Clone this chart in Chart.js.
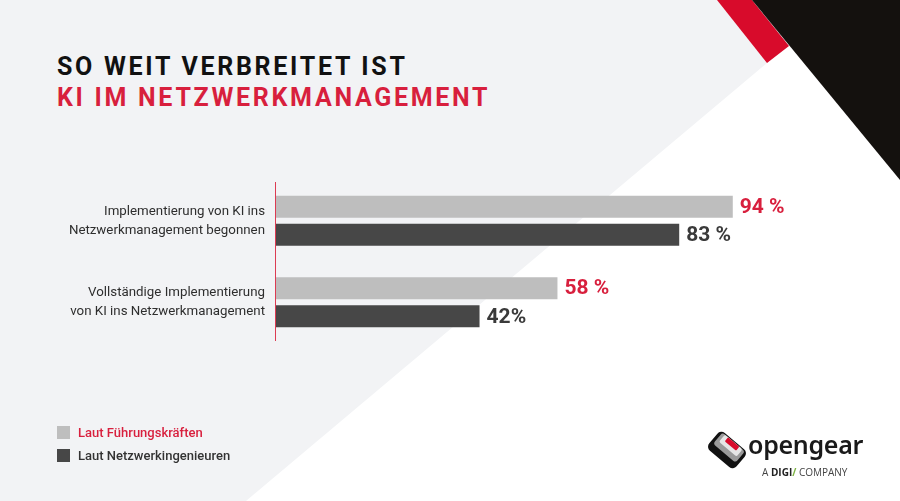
<!DOCTYPE html>
<html>
<head>
<meta charset="utf-8">
<script src="https://cdn.jsdelivr.net/npm/chart.js@4"></script>
<style>
  html, body { margin: 0; padding: 0; }
  body { width: 900px; height: 501px; position: relative; overflow: hidden; background: #f2f3f5; font-family: Roboto, sans-serif; }
  .shape { position: absolute; left: 0; top: 0; width: 900px; height: 501px; }
  #white { background: #fff; clip-path: polygon(246px 501px, 842px 0px, 900px 0px, 900px 501px); }
  #red { background: #d80b2b; clip-path: polygon(717px 0px, 752px 0px, 789px 46px, 767px 63px); }
  #black { background: #14110e; clip-path: polygon(752px 0px, 900px 0px, 900px 180px); }
  #chart { position: absolute; left: 0; top: 0; }
  .title { position: absolute; left: 57px; font-size: 25px; line-height: 25px; font-weight: 700; letter-spacing: 2.7px; white-space: nowrap; }
  .legend { position: absolute; left: 57px; font-size: 13px; font-weight: 500; line-height: 16px; white-space: nowrap; }
  .legend span { display: inline-block; width: 13px; height: 13px; vertical-align: -2px; margin-right: 8px; }
  #logo { position: absolute; left: 706px; top: 430px; }
</style>
</head>
<body>
<div class="shape" id="white"></div>
<div class="shape" id="red"></div>
<div class="shape" id="black"></div>

<div class="title" style="top:54px;color:#111;">SO WEIT VERBREITET IST</div>
<div class="title" style="top:85px;color:#d81f3d;">KI IM NETZWERKMANAGEMENT</div>

<canvas id="chart" width="900" height="501"></canvas>

<div class="legend" style="top:425px;color:#d81f3d;"><span style="background:#bebebe"></span>Laut Führungskräften</div>
<div class="legend" style="top:448px;color:#333;"><span style="background:#474747"></span>Laut Netzwerkingenieuren</div>

<div id="logo">
  <svg width="42" height="42" viewBox="0 0 40 40" style="position:absolute;left:0;top:-1px;">
    <g transform="rotate(40 20 20)">
      <rect x="3" y="9" width="34" height="22" rx="5" fill="#111"/>
      <rect x="6" y="10" width="28" height="14" rx="3" fill="#9a9a9a"/>
      <rect x="9" y="10" width="22" height="9" rx="2" fill="#e6e6e6"/>
      <rect x="13" y="10" width="14" height="5" rx="1" fill="#d80b2b"/>
    </g>
  </svg>
  <div style="position:absolute;left:42px;top:-3px;font-family:'Noto Sans',sans-serif;font-size:25px;font-weight:600;color:#1a1a1a;letter-spacing:-0.3px;white-space:nowrap;">opengear</div>
  <div style="position:absolute;left:56px;top:35px;font-family:'Open Sans',sans-serif;font-size:10px;color:#444;white-space:nowrap;">A <b style="color:#222">DIGI</b><span style="color:#7cb342;font-weight:700;">/</span> COMPANY</div>
</div>

<script>
const categories = [
  ['Implementierung von KI ins', 'Netzwerkmanagement begonnen'],
  ['Vollständige Implementierung', 'von KI ins Netzwerkmanagement']
];
const seriesNames = ['Laut Führungskräften', 'Laut Netzwerkingenieuren'];
const executives = [94, 58];
const engineers = [83, 42];
const executiveLabels = ['94 %', '58 %'];
const engineerLabels = ['83 %', '42%'];

// value text next to each bar + the thin red axis line
const valueLabels = {
  id: 'valueLabels',
  afterDatasetsDraw(chart) {
    const ctx = chart.ctx;
    const area = chart.chartArea;
    ctx.save();
    ctx.strokeStyle = '#dc3b52';
    ctx.lineWidth = 1;
    ctx.beginPath();
    ctx.moveTo(area.left + 0.5, area.top + 2);
    ctx.lineTo(area.left + 0.5, area.bottom - 2);
    ctx.stroke();

    ctx.font = 'bold 21px Roboto';
    ctx.textBaseline = 'middle';
    ctx.textAlign = 'left';
    chart.data.datasets.forEach((ds, i) => {
      const meta = chart.getDatasetMeta(i);
      meta.data.forEach((bar, j) => {
        ctx.fillStyle = ds.labelColor;
        ctx.fillText(ds.valueText[j], bar.x + 7, bar.y + 1);
      });
    });
    ctx.restore();
  }
};

new Chart(document.getElementById('chart'), {
  type: 'bar',
  data: {
    labels: categories,
    datasets: [
      {
        label: seriesNames[0],
        data: executives,
        valueText: executiveLabels,
        labelColor: '#d81f3d',
        backgroundColor: '#bebebe',
        categoryPercentage: 0.69,
        barPercentage: 0.786
      },
      {
        label: seriesNames[1],
        data: engineers,
        valueText: engineerLabels,
        labelColor: '#3a3a3a',
        backgroundColor: '#474747',
        categoryPercentage: 0.69,
        barPercentage: 0.786
      }
    ]
  },
  options: {
    indexAxis: 'y',
    responsive: false,
    animation: false,
    devicePixelRatio: 1,
    layout: { padding: { top: 180, bottom: 158, right: 138, left: 0 } },
    plugins: { legend: { display: false }, tooltip: { enabled: false } },
    scales: {
      x: { min: 0, max: 100, display: false },
      y: {
        afterFit(scale) { scale.width = 275; },
        grid: { display: false, drawTicks: false },
        border: { display: false },
        ticks: {
          color: '#2e2e2e',
          padding: 10,
          font: { family: 'Roboto', size: 13.3, lineHeight: 1.42 }
        }
      }
    }
  },
  plugins: [valueLabels]
});
</script>
</body>
</html>
